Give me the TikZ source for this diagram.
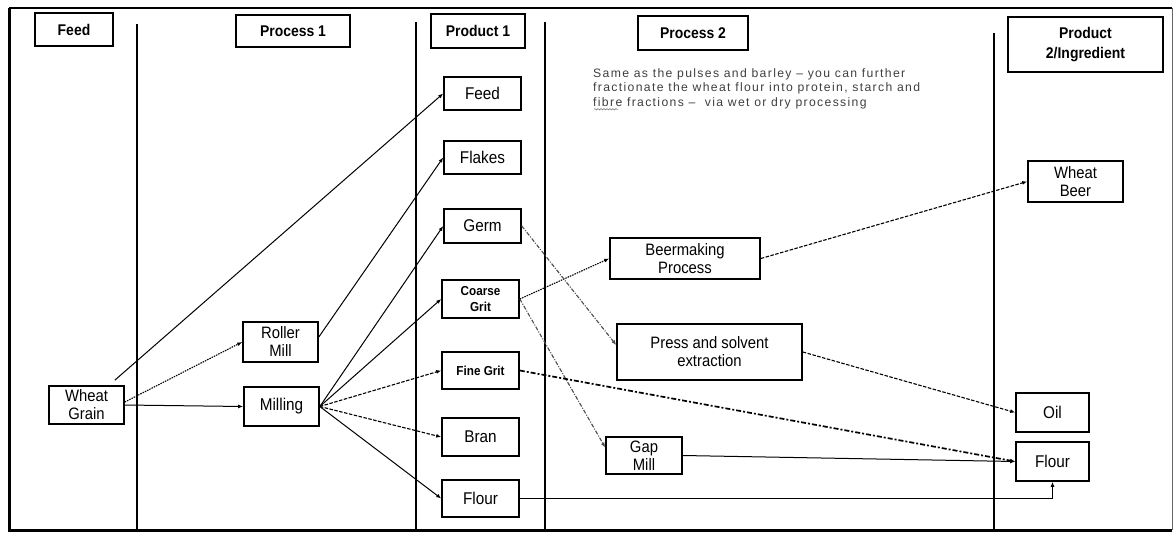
\documentclass[tikz,border=0pt]{standalone}
\usepackage{fontspec}
\setmainfont{Liberation Sans}[FakeStretch=0.9]
\newfontfamily\notefont[LetterSpace=11]{Liberation Sans}
\usetikzlibrary{arrows.meta,decorations.pathmorphing}
\begin{document}
\begin{tikzpicture}[x=1pt,y=-1pt,
  boxn/.style={draw,line width=1.6pt,inner sep=0pt,align=center,font=\fontsize{17}{18}\selectfont},
  twoline/.style={boxn,font=\fontsize{16.5}{18}\selectfont},
  smallb/.style={boxn,font=\bfseries\fontsize{13}{16}\selectfont},
  hdrbox/.style={boxn,font=\bfseries\fontsize{15.5}{20}\selectfont},
  colline/.style={line width=1.1pt},
  tip/.style={-{Latex[length=5pt,width=4pt]}},
  solidarr/.style={tip,line width=1pt},
  dotarr/.style={tip,line width=1.1pt,dash pattern=on 1.5pt off 1pt},
  dasharr/.style={tip,line width=1.1pt,dash pattern=on 3.5pt off 1.5pt},
  dashdotarr/.style={tip,line width=1.1pt,black!70,dash pattern=on 4pt off 1.5pt on 1pt off 1.5pt},
  thickdasharr/.style={tip,line width=1.7pt,dash pattern=on 5pt off 2pt on 2pt off 2pt}]
\useasboundingbox (0,0) rectangle (1175,535);
\fill[white] (0,0) rectangle (1175,535);
% frame
\draw[line width=1.3pt] (9,8) -- (1172,8);
\draw[line width=0.8pt,black!60] (1172,8) -- (1172,530);
\draw[line width=3pt] (9,8) -- (9,530) -- (1172,530);
% column separators
\draw[colline] (137,24) -- (137,530);
\draw[colline] (416,22) -- (416,530);
\draw[colline] (545,22) -- (545,530);
\draw[colline] (994,33) -- (994,530);
% headers
\node[hdrbox,minimum width=78,minimum height=33] (hfeed) at (74,29.5) {Feed};
\node[hdrbox,minimum width=114,minimum height=32] (hproc1) at (293,31) {Process 1};
\node[hdrbox,minimum width=94,minimum height=34] (hprod1) at (478,31) {Product 1};
\node[hdrbox,minimum width=110,minimum height=34] (hproc2) at (693,33) {Process 2};
\node[hdrbox,minimum width=155,minimum height=55] (hprod2) at (1085.5,44.5) {Product\\2/Ingredient};
% note
\node[anchor=north west,align=left,inner sep=0pt,text=black!75,
      font=\notefont\fontsize{12.2}{14.5}\selectfont] (note) at (593,68)
  {Same as the pulses and barley – you can further\\fractionate the wheat flour into protein, starch and\\fibre fractions –~ via wet or dry processing};
\draw[black!55,line width=0.5pt,decorate,decoration={snake,amplitude=0.7pt,segment length=3pt}]
  ([xshift=1pt,yshift=-0.5pt]note.south west) -- ++(24,0);
% feed / process 1
\node[twoline,minimum width=75,minimum height=38] (wg) at (86.5,405) {Wheat\\Grain};
\node[twoline,minimum width=75,minimum height=40] (rm) at (280.5,342) {Roller\\Mill};
\node[boxn,minimum width=75,minimum height=39] (mil) at (281.5,406.5) {Milling};
% product 1
\node[boxn,minimum width=77,minimum height=33] (pfeed) at (482.5,93.5) {Feed};
\node[boxn,minimum width=77,minimum height=33] (flakes) at (482.5,157.5) {Flakes};
\node[boxn,minimum width=77,minimum height=34] (germ) at (482.5,226) {Germ};
\node[smallb,minimum width=77,minimum height=38] (cgrit) at (480.5,299) {Coarse\\Grit};
\node[smallb,minimum width=77,minimum height=37] (fgrit) at (480.5,370.5) {Fine Grit};
\node[boxn,minimum width=77,minimum height=38] (bran) at (480.5,437) {Bran};
\node[boxn,minimum width=77,minimum height=37] (flourA) at (480.5,498.5) {Flour};
% process 2
\node[twoline,minimum width=150,minimum height=41] (beer) at (685,258.5) {Beermaking\\Process};
\node[twoline,minimum width=185,minimum height=56] (press) at (709.5,352) {Press and solvent\\extraction};
\node[twoline,minimum width=76,minimum height=37] (gap) at (644,455.5) {Gap\\Mill};
% product 2
\node[twoline,minimum width=95,minimum height=41] (wbeer) at (1075.5,181.5) {Wheat\\Beer};
\node[boxn,minimum width=73,minimum height=39] (oil) at (1052.5,412.5) {Oil};
\node[boxn,minimum width=73,minimum height=39] (flourB) at (1052.5,461.5) {Flour};
% connectors
\draw[solidarr] ([xshift=-10pt,yshift=5pt]wg.north east) -- (pfeed.west);
\draw[dotarr] ([yshift=3pt]wg.east) -- (rm.west);
\draw[solidarr] (wg.east) -- (mil.west);
\draw[solidarr] ([yshift=5pt]rm.east) -- (flakes.west);
\draw[solidarr] (mil.east) -- (germ.west);
\draw[solidarr] (mil.east) -- (cgrit.west);
\draw[dasharr] (mil.east) -- (fgrit.west);
\draw[dasharr] (mil.east) -- (bran.west);
\draw[solidarr] (mil.east) -- (flourA.west);
\draw[dotarr] (cgrit.east) -- (beer.west);
\draw[dashdotarr] (germ.east) -- ([yshift=7pt]press.west);
\draw[dashdotarr] (cgrit.east) -- ([yshift=8pt]gap.west);
\draw[thickdasharr] (fgrit.east) -- (flourB.west);
\draw[dasharr] (press.east) -- (oil.west);
\draw[dasharr] (beer.east) -- (wbeer.west);
\draw[solidarr] (gap.east) -- (flourB.west);
\draw[solidarr] (flourA.east) -| (flourB.south);
\end{tikzpicture}
\end{document}
